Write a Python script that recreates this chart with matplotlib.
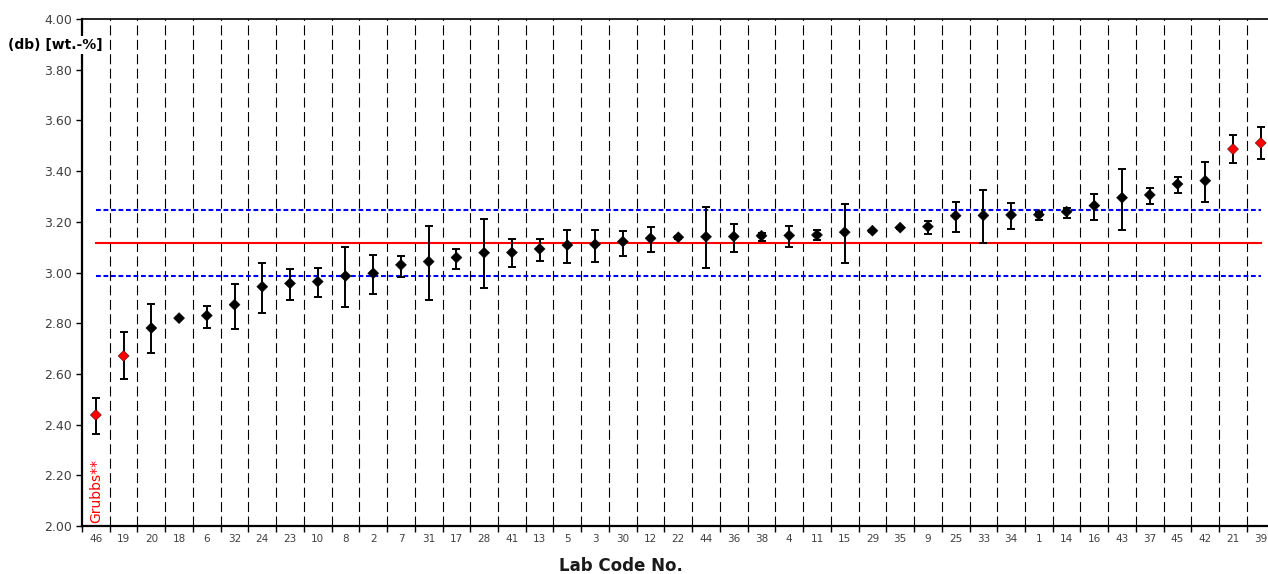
import matplotlib
matplotlib.use("Agg")
import matplotlib.pyplot as plt
import numpy as np

labs = ["46","19","20","18","6","32","24","23","10","8","2","7","31","17","28","41","13","5","3","30",
        "12","22","44","36","38","4","11","15","29","35","9","25","33","34","1","14","16","43","37","45",
        "42","21","39"]
means = [2.438, 2.671, 2.781, 2.820, 2.830, 2.873, 2.944, 2.957, 2.964, 2.986, 2.997, 3.030, 3.043, 3.059,
         3.078, 3.079, 3.093, 3.108, 3.111, 3.122, 3.135, 3.139, 3.141, 3.142, 3.145, 3.146, 3.148, 3.159,
         3.165, 3.177, 3.181, 3.224, 3.225, 3.227, 3.228, 3.240, 3.264, 3.295, 3.306, 3.349, 3.362, 3.487, 3.511]
upper = [2.506, 2.765, 2.875, 2.825, 2.869, 2.956, 3.036, 3.014, 3.018, 3.102, 3.069, 3.065, 3.183, 3.091,
         3.210, 3.131, 3.131, 3.168, 3.168, 3.165, 3.181, 3.144, 3.257, 3.191, 3.157, 3.183, 3.168, 3.270,
         3.169, 3.181, 3.204, 3.277, 3.325, 3.273, 3.240, 3.253, 3.310, 3.408, 3.335, 3.376, 3.435, 3.542, 3.573]
lower = [2.364, 2.579, 2.684, 2.815, 2.782, 2.778, 2.839, 2.892, 2.905, 2.863, 2.915, 2.981, 2.892, 3.014,
         2.938, 3.021, 3.047, 3.039, 3.043, 3.065, 3.082, 3.134, 3.017, 3.082, 3.125, 3.099, 3.128, 3.036,
         3.161, 3.173, 3.152, 3.159, 3.115, 3.172, 3.207, 3.216, 3.207, 3.168, 3.270, 3.312, 3.279, 3.431, 3.448]
outliers = ["46", "19", "21", "39"]
assigned = 3.118
limit_low = 2.986
limit_high = 3.247
ylabel = "(db) [wt.-%]"
xlabel = "Lab Code No."
grubbs_text = "Grubbs**"

W, H = 1268, 574
fig = plt.figure(figsize=(W / 100, H / 100), dpi=100)
left_px, right_px, top_px, bot_px = 82, 1274.6, 19, 526
ax = fig.add_axes([left_px / W, (H - bot_px) / H, (right_px - left_px) / W, (bot_px - top_px) / H])

n = len(labs)
x = np.arange(n)
m = np.array(means)
up = np.array(upper)
lo = np.array(lower)

# vertical dashed separators
for b in np.arange(0.5, n - 0.5, 1.0):
    ax.axvline(b, color="black", lw=0.8, linestyle=(0, (9, 4)), zorder=1)

# reference lines
ax.plot([0, n - 1], [assigned, assigned], color="#ff0000", lw=1.5, zorder=2)
for v in (limit_low, limit_high):
    ax.plot([0, n - 1], [v, v], color="#0000ff", lw=1.5, linestyle=(0, (2.3, 1.3)), zorder=2)

ax.errorbar(x, m, yerr=[m - lo, up - m], fmt="none", ecolor="black", elinewidth=1.4,
            capsize=3, capthick=1.4, zorder=3)
colors = ["#ff0000" if l in outliers else "black" for l in labs]
ax.scatter(x, m, marker="D", s=32, c=colors, edgecolors="black", linewidths=0.3, zorder=4)

ax.set_xlim(-0.5, n - 0.5)
ax.set_ylim(2.0, 4.0)
ax.set_yticks(np.arange(2.0, 4.01, 0.2))
ax.set_yticklabels([f"{v:.2f}" for v in np.arange(2.0, 4.01, 0.2)], fontsize=9, color="#404040")
ax.set_xticks(x)
ax.set_xticklabels(labs, fontsize=7.5, color="#404040")
ax.set_xticks(np.arange(-0.5, n, 1.0), minor=True)
ax.tick_params(axis="x", which="major", length=0, pad=6)
ax.tick_params(axis="x", which="minor", length=4, width=1, direction="out")
ax.tick_params(axis="y", length=4, width=1, direction="out", pad=3)

for s in ("left", "bottom"):
    ax.spines[s].set_linewidth(1.6)
ax.spines["top"].set_linewidth(1.2)
ax.spines["right"].set_visible(False)

ax.text(0, 2.012, grubbs_text, rotation=90, color="#ff0000", fontsize=10, ha="center", va="bottom", zorder=5)

fig.text(55 / W, (H - 45) / H, ylabel, fontsize=10, fontweight="bold", ha="center", va="center",
         bbox=dict(facecolor="white", edgecolor="none", pad=1.5))
fig.text(621 / W, (H - 566) / H, xlabel, fontsize=12, fontweight="bold", ha="center", va="center",
         color="#1a1a1a")

fig.savefig("out.png", dpi=100, facecolor="white")
